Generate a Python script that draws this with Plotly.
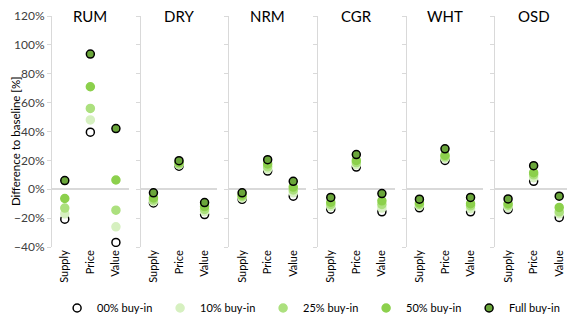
import plotly.graph_objects as go
from plotly.subplots import make_subplots

sectors = ['RUM', 'DRY', 'NRM', 'CGR', 'WHT', 'OSD']
measures = ['Supply', 'Price', 'Value']

# values per sector: [Supply, Price, Value], in %
buy_in_00 = [[-20.7, 39.5, -36.8], [-9.5, 16, -17.5], [-7, 12.6, -4.8],
             [-13.8, 15.4, -15.6], [-12.9, 20, -15.6], [-14, 5.5, -19.5]]
buy_in_10 = [[-17, 48, -26], [-8.5, 17, -15.5], [-6, 14, -2.5],
             [-12, 17, -13], [-11.5, 21.5, -13.5], [-12.5, 8, -17]]
buy_in_25 = [[-13, 56, -14.5], [-7.5, 17.5, -14], [-5, 15.5, -0.5],
             [-10.5, 18.5, -10.5], [-10.5, 22.5, -11.5], [-11, 10, -15.6]]
buy_in_50 = [[-6.4, 71, 6.4], [-6, 18.5, -12], [-4, 17.5, 1.5],
             [-9, 20, -8], [-9.5, 23.5, -10], [-10, 11.5, -12.6]]
buy_in_full = [[6, 93.6, 42], [-2.5, 19.8, -9.2], [-2.5, 20.5, 5.5],
               [-5.7, 24, -3], [-6.9, 28, -5.7], [-6.7, 16.3, -4.8]]

series = [
    ('00% buy-in', buy_in_00, 'white', 'black'),
    ('10% buy-in', buy_in_10, '#d6f0c0', '#d6f0c0'),
    ('25% buy-in', buy_in_25, '#ace07e', '#ace07e'),
    ('50% buy-in', buy_in_50, '#8cd04c', '#8cd04c'),
    ('Full buy-in', buy_in_full, '#6aa63a', 'black'),
]

fig = make_subplots(rows=1, cols=6, shared_yaxes=True, horizontal_spacing=0.023)

for i, sector in enumerate(sectors):
    for name, values, fill, edge in series:
        fig.add_trace(go.Scatter(
            x=measures, y=values[i], mode='markers', name=name,
            legendgroup=name, showlegend=(i == 0),
            marker=dict(size=8, color=fill, line=dict(color=edge, width=1.5)),
        ), row=1, col=i + 1)
    fig.update_xaxes(type='category', range=[-0.5, 2.5], tickangle=-90,
                     showgrid=False, showline=False, zeroline=False, ticks='',
                     automargin=False, tickfont=dict(size=11, color='black'),
                     row=1, col=i + 1)
    fig.update_yaxes(range=[-40, 120], dtick=20, ticks='outside', ticklen=4,
                     tickcolor='#d9d9d9', showline=True, linecolor='#d9d9d9',
                     showgrid=False, zeroline=True, zerolinecolor='#d9d9d9',
                     zerolinewidth=1.5, automargin=False, row=1, col=i + 1)
    dom = fig.layout['xaxis' if i == 0 else 'xaxis%d' % (i + 1)].domain
    fig.add_annotation(text=sector, x=(dom[0] + dom[1]) / 2, y=1.0,
                       xref='paper', yref='paper', xanchor='center', yanchor='middle',
                       showarrow=False, font=dict(size=15, color='black'))

fig.update_yaxes(ticksuffix='%', tickfont=dict(size=12, color='#404040'), row=1, col=1)

# y axis title as rotated text, kept clear of the tick labels
fig.add_annotation(text='Difference to baseline [%]', textangle=-90,
                   x=-0.0705, y=0.46, xref='paper', yref='paper',
                   xanchor='center', yanchor='middle', showarrow=False,
                   font=dict(size=11.5, color='black'))

# page body adds an 8px offset, so the figure is 8px smaller than the window
fig.update_layout(
    width=567, height=318,
    margin=dict(l=44, r=3, t=8, b=79),
    plot_bgcolor='white', paper_bgcolor='white',
    font=dict(family='Lato, Open Sans, sans-serif'),
    legend=dict(orientation='h', x=0.505, xanchor='center', y=-0.264, yanchor='middle',
                font=dict(size=11, color='black'), entrywidth=58, entrywidthmode='pixels',
                itemwidth=30, tracegroupgap=0, traceorder='normal'),
)

fig.write_html("out.html")
